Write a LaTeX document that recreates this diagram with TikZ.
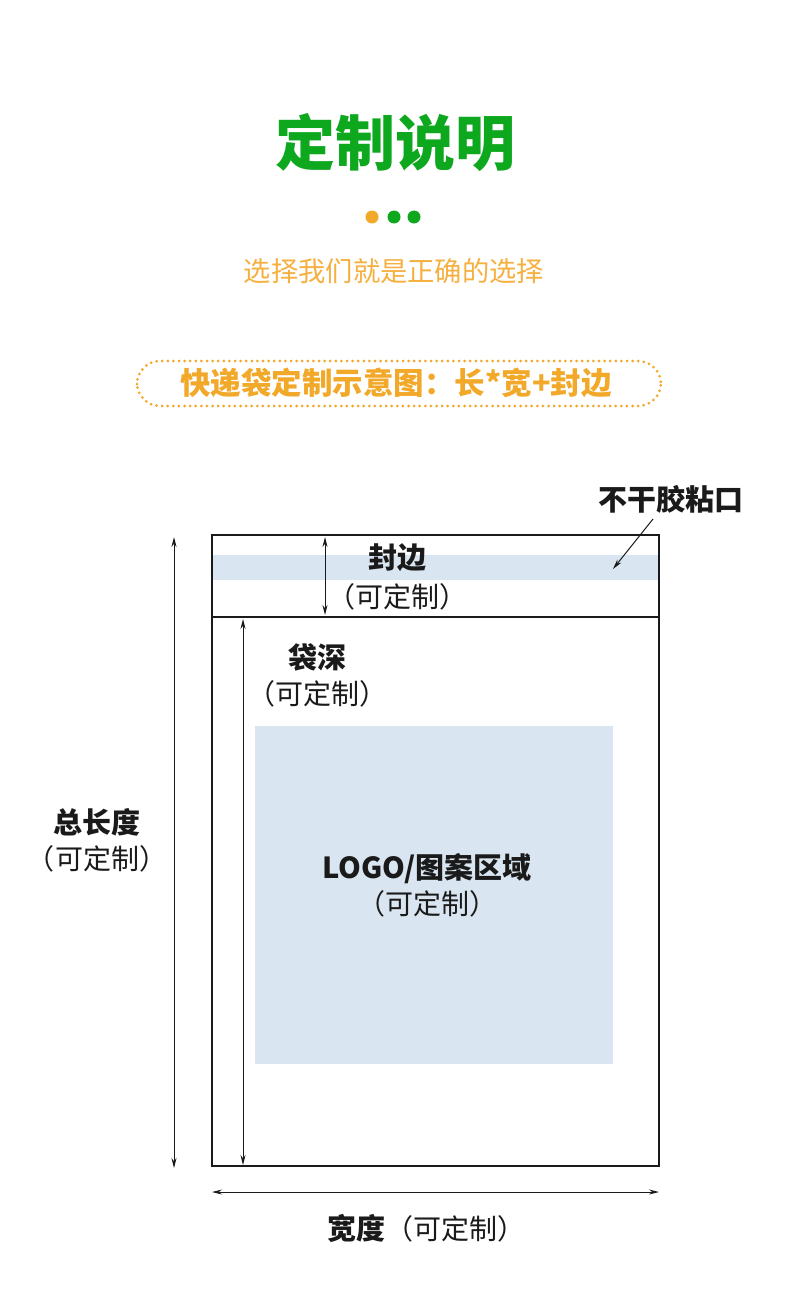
\documentclass[tikz,border=0pt]{standalone}
\usepackage{fontspec}
\setmainfont{Noto Sans CJK SC}
\usetikzlibrary{arrows.meta}
\definecolor{tgreen}{RGB}{14,168,30}
\definecolor{torange}{RGB}{242,168,40}
\definecolor{tsub}{RGB}{245,176,64}
\definecolor{tblue}{RGB}{217,229,240}
\definecolor{tink}{RGB}{26,26,26}
\tikzset{
  lbl/.style={inner sep=0pt, text=tink, font=\bfseries\fontsize{29}{33}\selectfont},
  sub/.style={inner sep=0pt, text=tink, font=\fontsize{28}{32}\selectfont},
  dimarrow/.style={line width=1pt, draw=tink, {Stealth[length=10pt,width=5pt]}-{Stealth[length=10pt,width=5pt]}},
  onearrow/.style={line width=1pt, draw=tink, -{Stealth[length=10pt,width=5pt]}},
  bagline/.style={line width=2.4pt, draw=tink}
}
\begin{document}
\begin{tikzpicture}[x=1pt,y=-1pt]
\useasboundingbox[fill=white] (0,0) rectangle (790,1292);
% title
\node[inner sep=0pt, text=tgreen, font=\bfseries\fontsize{60}{66}\selectfont] (title) at (395,143) {定制说明};
\fill[torange] (372,217) circle (6.5);
\fill[tgreen] (394,217) circle (6.5);
\fill[tgreen] (414,217) circle (6.5);
\node[inner sep=0pt, text=tsub, font=\fontsize{27.3}{31}\selectfont] (subtitle) at (394,271) {选择我们就是正确的选择};
% dotted banner
\draw[torange, line width=3pt, dash pattern=on 0pt off 5.6pt, line cap=round, rounded corners=23pt] (137,361) rectangle (661,406);
\node[inner sep=0pt, text=torange, font=\bfseries\fontsize{30.5}{34}\selectfont] (banner) at (396,383) {快递袋定制示意图：长*宽+封边};
% bag
\fill[tblue] (212,555) rectangle (659,580);
\fill[tblue] (255,726) rectangle (613,1064);
\draw[bagline] (212,535) rectangle (659,1166);
\draw[bagline] (212,617) -- (659,617);
% coordinates
\coordinate (sealtop) at (325,537);
\coordinate (sealbot) at (325,615);
\coordinate (deeptop) at (243,619);
\coordinate (deepbot) at (243,1165);
\coordinate (lentop) at (174,537);
\coordinate (lenbot) at (174,1168);
\coordinate (wl) at (212,1192);
\coordinate (wr) at (659,1192);
\coordinate (gluefrom) at (653,519);
\coordinate (glueto) at (613,569);
\draw[dimarrow] (sealtop) -- (sealbot);
\draw[dimarrow] (deeptop) -- (deepbot);
\draw[dimarrow] (lentop) -- (lenbot);
\draw[dimarrow] (wl) -- (wr);
\draw[onearrow] (gluefrom) -- (glueto);
% labels
\node[lbl] (glue) at (671,499) {不干胶粘口};
\node[lbl] (seal) at (397,558) {封边};
\node[sub] (sealsub) at (397,597) {（可定制）};
\node[lbl] (deep) at (317,657) {袋深};
\node[sub] (deepsub) at (317,694) {（可定制）};
\node[lbl] (len) at (97,822) {总长度};
\node[sub] (lensub) at (97,859) {（可定制）};
\node[lbl] (logo) at (427,869) {LOGO/图案区域};
\node[sub] (logosub) at (427,904) {（可定制）};
\node[inner sep=0pt, text=tink] (width) at (426,1228) {\bfseries\fontsize{29}{33}\selectfont 宽度\mdseries\fontsize{28}{32}\selectfont（可定制）};
\end{tikzpicture}
\end{document}
